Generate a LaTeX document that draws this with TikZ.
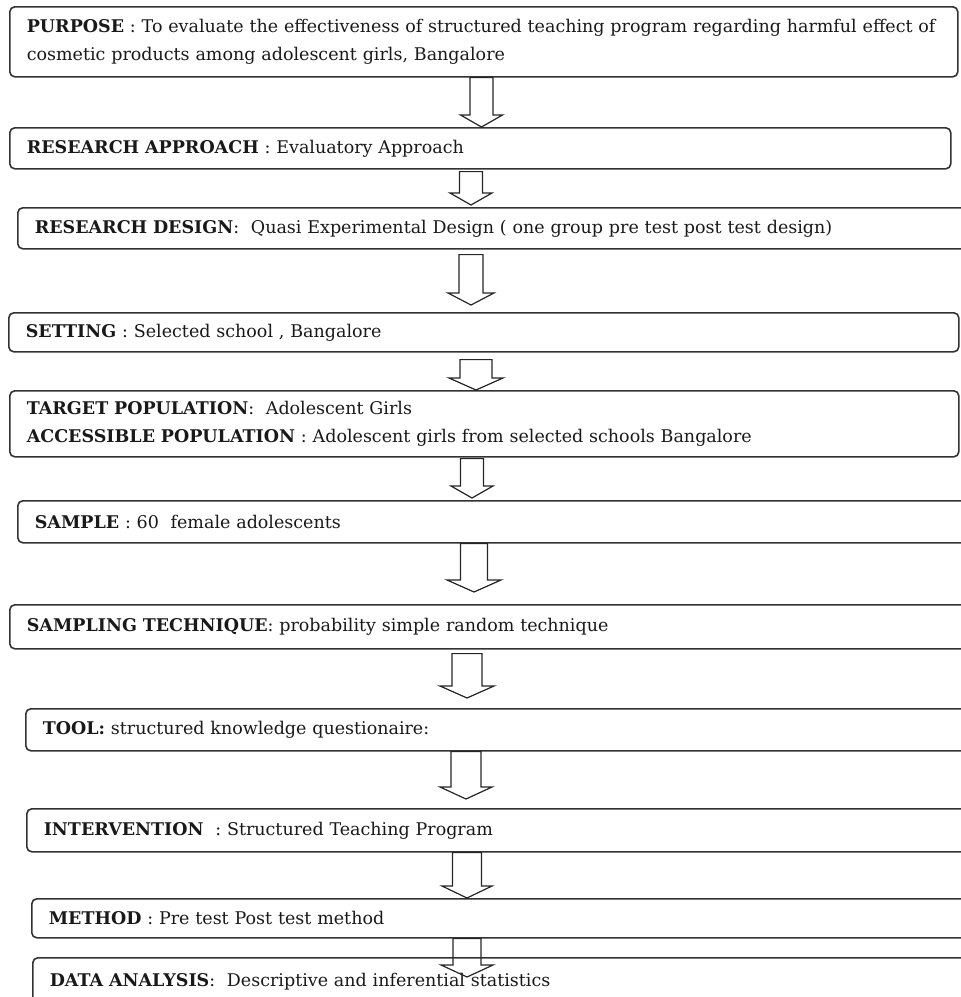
\documentclass[tikz,border=0pt]{standalone}
\usepackage{fontspec}
\setmainfont{DejaVu Serif}
\usetikzlibrary{calc}

% outlined block arrow from #1 (top of shaft) to #2 (tip)
\newcommand{\blockarrow}[4]{%
  \draw[arrowline] let \p1=#1, \p2=#2 in
    (\x1-#3pt,\y1) -- (\x1-#3pt,\y2+12pt) -- (\x1-#4pt,\y2+12pt) -- (\x1,\y2)
    -- (\x1+#4pt,\y2+12pt) -- (\x1+#3pt,\y2+12pt) -- (\x1+#3pt,\y1) -- cycle;
}

\begin{document}
\begin{tikzpicture}[x=1pt, y=-1pt]
\tikzstyle{box} = [draw=black!80, line width=1.6, rounded corners=5pt, anchor=north west,
  inner xsep=17pt, inner ysep=0pt, align=left, text=black!90,
  font=\fontsize{17.5}{27.5}\selectfont]
\tikzstyle{arrowline} = [draw=black!85, line width=1.2]
\useasboundingbox (0,0) rectangle (961,997);
\clip (0,0) rectangle (961,997);
\node[box, minimum height=70pt, text width=914pt] (purpose) at (9,6) {\textbf{PURPOSE} : To evaluate the effectiveness of structured teaching program regarding harmful effect of\\cosmetic products among adolescent girls, Bangalore};
\node[box, minimum height=41pt, text width=907pt] (approach) at (9,127) {\textbf{RESEARCH APPROACH} : Evaluatory Approach};
\node[box, minimum height=41pt, text width=924pt] (design) at (17,207) {\textbf{RESEARCH DESIGN}:~ Quasi Experimental Design ( one group pre test post test design)};
\node[box, minimum height=39pt, text width=916pt] (setting) at (8,312) {\textbf{SETTING} : Selected school , Bangalore};
\node[box, minimum height=66pt, text width=915pt] (population) at (9,390) {\textbf{TARGET POPULATION}:~ Adolescent Girls\\\textbf{ACCESSIBLE POPULATION} : Adolescent girls from selected schools Bangalore};
\node[box, minimum height=42pt, text width=924pt] (sample) at (17,500) {\textbf{SAMPLE} : 60~ female adolescents};
\node[box, minimum height=44pt, text width=932pt] (sampling) at (9,604) {\textbf{SAMPLING TECHNIQUE}: probability simple random technique};
\node[box, minimum height=42pt, text width=916pt] (tool) at (25,708) {\textbf{TOOL:} structured knowledge questionaire:};
\node[box, minimum height=43pt, text width=915pt] (intervention) at (26,808) {\textbf{INTERVENTION}~ : Structured Teaching Program};
\node[box, minimum height=39pt, text width=910pt] (method) at (31,898) {\textbf{METHOD} : Pre test Post test method};
\node[box, minimum height=48pt, text width=909pt] (analysis) at (32,957) {\textbf{DATA ANALYSIS}:~ Descriptive and inferential statistics};
% arrow axes
\coordinate (c1) at (481.5,0);
\coordinate (c2) at (471,0);
\coordinate (c3) at (471,0);
\coordinate (c4) at (476,0);
\coordinate (c5) at (472,0);
\coordinate (c6) at (474,0);
\coordinate (c7) at (467,0);
\coordinate (c8) at (466,0);
\coordinate (c9) at (467,0);
\coordinate (c10) at (467,0);
\blockarrow{(purpose.south -| c1)}{(approach.north -| c1)}{11.5}{21}
\blockarrow{($(approach.south -| c2)+(0,2)$)}{($(design.north -| c2)+(0,-2)$)}{11.5}{21}
\blockarrow{($(design.south -| c3)+(0,5)$)}{($(setting.north -| c3)+(0,-7)$)}{12}{23}
\blockarrow{($(setting.south -| c4)+(0,7)$)}{(population.north -| c4)}{16}{27}
\blockarrow{($(population.south -| c5)+(0,1)$)}{($(sample.north -| c5)+(0,-2)$)}{11.5}{21}
\blockarrow{(sample.south -| c6)}{($(sampling.north -| c6)+(0,-12)$)}{13.5}{27}
\blockarrow{($(sampling.south -| c7)+(0,4)$)}{($(tool.north -| c7)+(0,-10)$)}{15}{27}
\blockarrow{(tool.south -| c8)}{($(intervention.north -| c8)+(0,-9)$)}{15}{26}
\blockarrow{(intervention.south -| c9)}{(method.north -| c9)}{14.5}{25}
\blockarrow{(method.south -| c10)}{($(analysis.north -| c10)+(0,20)$)}{14}{26}
\end{tikzpicture}
\end{document}
